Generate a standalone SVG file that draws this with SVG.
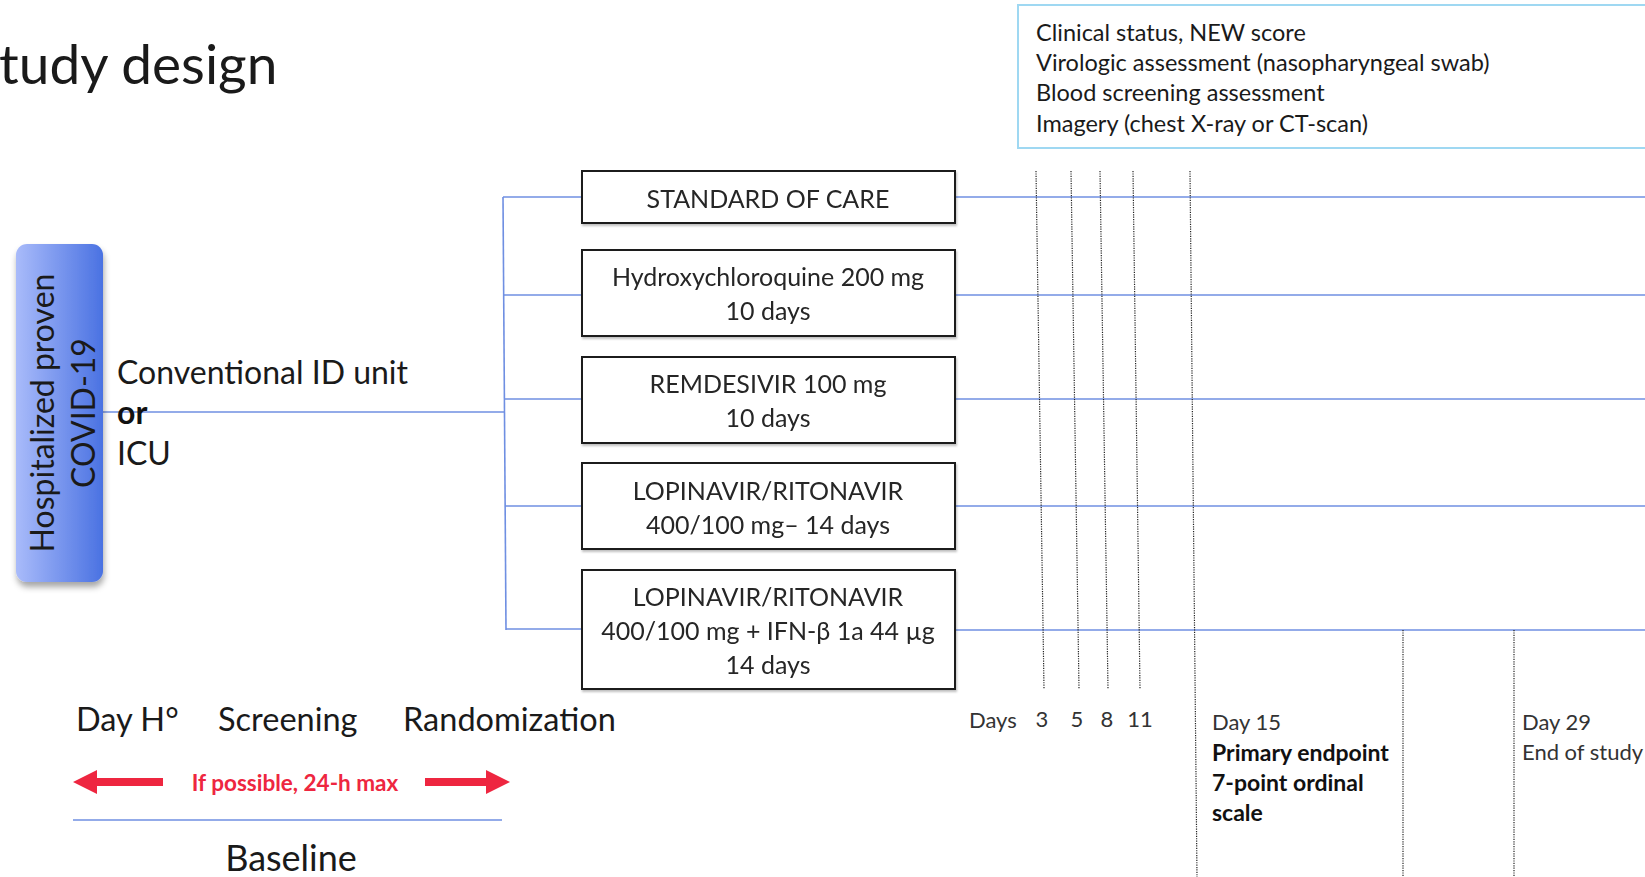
<svg xmlns="http://www.w3.org/2000/svg" width="1645" height="877" viewBox="0 0 1645 877">
  <style>
    .t { font-family: Lato, "Open Sans", "Liberation Sans", sans-serif; fill: #1a1a1a; }
    .box { fill: #ffffff; stroke: #1e1e1e; stroke-width: 2; }
    .bt { font-size: 25px; text-anchor: middle; fill: #262626; }
    .conn { stroke: #6f8fe2; stroke-width: 1.6; fill: none; }
    .dot { stroke: #222; stroke-width: 1.2; stroke-dasharray: 1.2 1.2; fill: none; }
    .lab { font-size: 22px; fill: #333; }
    .bold { font-weight: bold; fill: #111; }
    .red { fill: #ee2640; }
  </style>
  <defs>
    <linearGradient id="pop" x1="0" y1="0" x2="1" y2="0">
      <stop offset="0" stop-color="#a9bbfa"/>
      <stop offset="1" stop-color="#4a72e2"/>
    </linearGradient>
    <filter id="shadow" x="-20%" y="-10%" width="150%" height="130%">
      <feGaussianBlur in="SourceAlpha" stdDeviation="3"/>
      <feOffset dx="1" dy="5" result="b"/>
      <feFlood flood-color="#000" flood-opacity="0.35"/>
      <feComposite in2="b" operator="in"/>
      <feMerge><feMergeNode/><feMergeNode in="SourceGraphic"/></feMerge>
    </filter>
    <filter id="soft" x="-5%" y="-10%" width="110%" height="130%">
      <feGaussianBlur in="SourceAlpha" stdDeviation="1.2"/>
      <feOffset dx="1" dy="2" result="b"/>
      <feFlood flood-color="#000" flood-opacity="0.25"/>
      <feComposite in2="b" operator="in"/>
      <feMerge><feMergeNode/><feMergeNode in="SourceGraphic"/></feMerge>
    </filter>
  </defs>

  <rect width="1645" height="877" fill="#ffffff"/>

  <!-- heading -->
  <text class="t" x="-1" y="84" font-size="55">tudy design</text>

  <!-- assessments panel -->
  <g id="assessments">
    <rect x="1018" y="5" width="640" height="143" fill="#ffffff" stroke="#9fd8f2" stroke-width="2"/>
    <text class="t" font-size="23.5" fill="#222" x="1036">
      <tspan x="1036" y="41">Clinical status, NEW score</tspan>
      <tspan x="1036" y="71">Virologic assessment (nasopharyngeal swab)</tspan>
      <tspan x="1036" y="101">Blood screening assessment</tspan>
      <tspan x="1036" y="132">Imagery (chest X-ray or CT-scan)</tspan>
    </text>
  </g>

  <!-- connectors: randomisation bracket, arm timelines, visit markers -->
  <g id="connectors">
    <line class="conn" x1="103" y1="412" x2="504" y2="412"/>
    <line class="conn" x1="503" y1="197" x2="506" y2="630"/>
    <line class="conn" x1="503" y1="197" x2="582" y2="197"/>
    <line class="conn" x1="504" y1="295" x2="582" y2="295"/>
    <line class="conn" x1="504" y1="399" x2="582" y2="399"/>
    <line class="conn" x1="505" y1="506" x2="582" y2="506"/>
    <line class="conn" x1="506" y1="629" x2="582" y2="629"/>
    <line class="conn" x1="955" y1="197" x2="1645" y2="197"/>
    <line class="conn" x1="955" y1="295" x2="1645" y2="295"/>
    <line class="conn" x1="955" y1="399" x2="1645" y2="399"/>
    <line class="conn" x1="955" y1="506" x2="1645" y2="506"/>
    <line class="conn" x1="955" y1="630" x2="1645" y2="630"/>
    <!-- visit days 3, 5, 8, 11 -->
    <line class="dot" x1="1036" y1="171" x2="1044" y2="689"/>
    <line class="dot" x1="1071" y1="171" x2="1079" y2="689"/>
    <line class="dot" x1="1100" y1="171" x2="1108" y2="689"/>
    <line class="dot" x1="1133" y1="171" x2="1140" y2="689"/>
    <!-- day 15 -->
    <line class="dot" x1="1190" y1="171" x2="1197" y2="877"/>
    <!-- follow-up markers -->
    <line class="dot" x1="1403" y1="630" x2="1403" y2="877"/>
    <line class="dot" x1="1514" y1="630" x2="1514" y2="877"/>
    <!-- baseline rule -->
    <line class="conn" x1="73" y1="820" x2="502" y2="820"/>
  </g>

  <!-- population -->
  <g id="population">
    <rect x="16" y="244" width="87" height="338" rx="11" fill="url(#pop)" filter="url(#shadow)"/>
    <text class="t" font-size="32" fill="#ffffff" text-anchor="middle" transform="translate(54 413) rotate(-90)">Hospitalized proven</text>
    <text class="t" font-size="32" fill="#ffffff" text-anchor="middle" transform="translate(95 413) rotate(-90)">COVID-19</text>
  </g>

  <g id="setting">
    <text class="t" font-size="32" x="117" y="384">Conventional ID unit</text>
    <text class="t bold" font-size="32" x="117" y="424">or</text>
    <text class="t" font-size="32" x="117" y="465">ICU</text>
  </g>

  <!-- treatment arms -->
  <g id="arm-soc" filter="url(#soft)">
    <rect class="box" x="582" y="171" width="373" height="52"/>
    <text class="t bt" x="768" y="208">STANDARD OF CARE</text>
  </g>
  <g id="arm-hcq" filter="url(#soft)">
    <rect class="box" x="582" y="250" width="373" height="86"/>
    <text class="t bt" x="768" y="286">Hydroxychloroquine 200 mg</text>
    <text class="t bt" x="768" y="320">10 days</text>
  </g>
  <g id="arm-rdv" filter="url(#soft)">
    <rect class="box" x="582" y="357" width="373" height="86"/>
    <text class="t bt" x="768" y="393">REMDESIVIR 100 mg</text>
    <text class="t bt" x="768" y="427">10 days</text>
  </g>
  <g id="arm-lpv" filter="url(#soft)">
    <rect class="box" x="582" y="463" width="373" height="86"/>
    <text class="t bt" x="768" y="500">LOPINAVIR/RITONAVIR</text>
    <text class="t bt" x="768" y="534">400/100 mg– 14 days</text>
  </g>
  <g id="arm-lpv-ifn" filter="url(#soft)">
    <rect class="box" x="582" y="570" width="373" height="119"/>
    <text class="t bt" x="768" y="606">LOPINAVIR/RITONAVIR</text>
    <text class="t bt" x="768" y="640">400/100 mg + IFN-β 1a 44 µg</text>
    <text class="t bt" x="768" y="674">14 days</text>
  </g>

  <!-- timeline labels -->
  <g id="visits">
    <text class="t lab" x="969" y="728">Days</text>
    <text class="t lab" x="1042" y="727" text-anchor="middle">3</text>
    <text class="t lab" x="1077" y="727" text-anchor="middle">5</text>
    <text class="t lab" x="1107" y="727" text-anchor="middle">8</text>
    <text class="t lab" x="1140" y="727" text-anchor="middle">11</text>
  </g>
  <g id="day15">
    <text class="t lab" x="1212" y="730">Day 15</text>
    <text class="t bold" font-size="23" x="1212" y="761">Primary endpoint</text>
    <text class="t bold" font-size="23" x="1212" y="791">7-point ordinal</text>
    <text class="t bold" font-size="23" x="1212" y="821">scale</text>
  </g>
  <g id="day29">
    <text class="t lab" x="1522" y="730">Day 29</text>
    <text class="t lab" x="1522" y="760">End of study</text>
  </g>

  <!-- baseline phase -->
  <g id="baseline">
    <text class="t" font-size="32.5" fill="#222" x="76" y="731">Day H°</text>
    <text class="t" font-size="32.5" fill="#222" x="218" y="731">Screening</text>
    <text class="t" font-size="32.5" fill="#222" x="403" y="731">Randomization</text>
    <path class="red" d="M73 782 L97 770 L97 778 L163 778 L163 786 L97 786 L97 794 Z"/>
    <path class="red" d="M510 782 L486 770 L486 778 L425 778 L425 786 L486 786 L486 794 Z"/>
    <text class="t bold red" font-size="22.5" x="295" y="791" text-anchor="middle">If possible, 24-h max</text>
    <text class="t" font-size="36" fill="#111" x="291" y="871" text-anchor="middle">Baseline</text>
  </g>
</svg>
